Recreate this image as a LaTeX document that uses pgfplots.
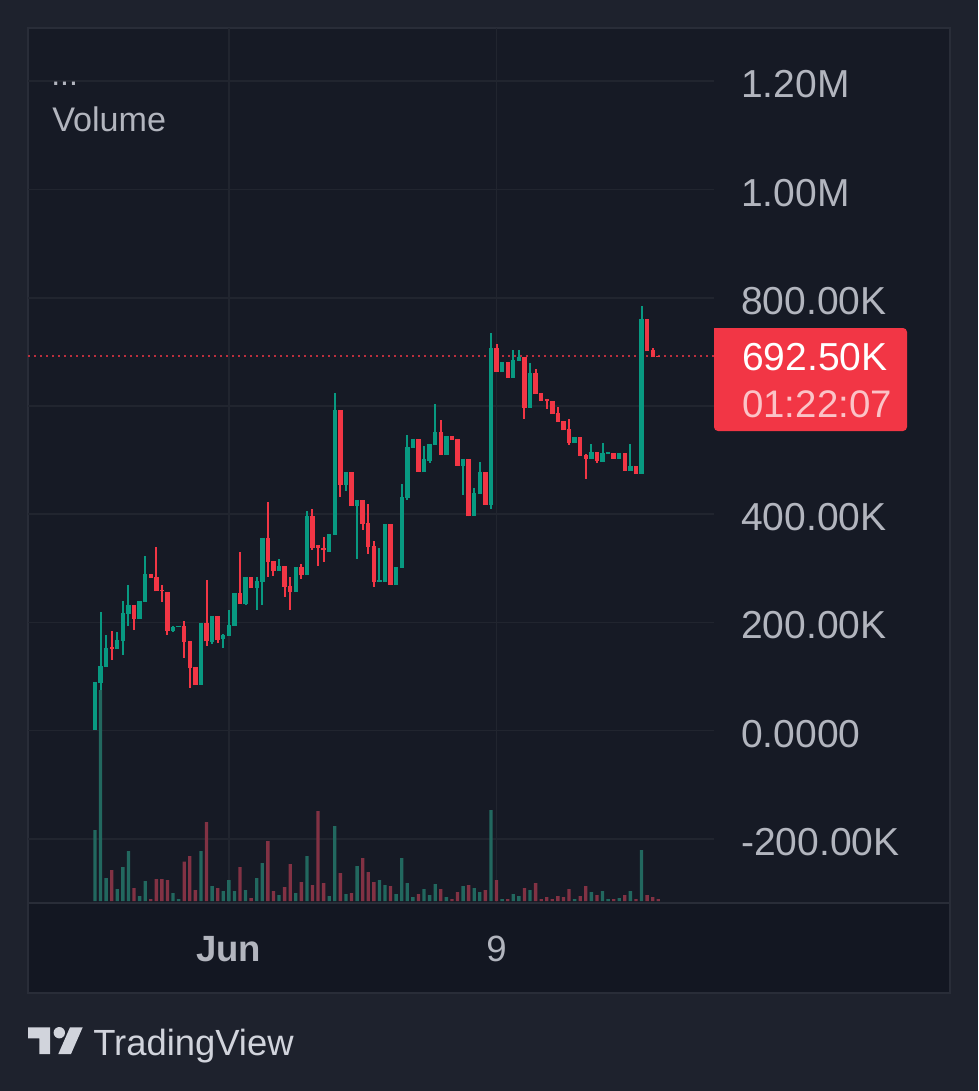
\documentclass[border=0pt]{standalone}
\usepackage{pgfplots}
\usepackage{pgfplotstable}
\usepackage{fontspec}
\setmainfont{Liberation Sans}
\pgfplotsset{compat=1.18}
\definecolor{outer}{HTML}{1E222D}
\definecolor{pane}{HTML}{161A25}
\definecolor{panelow}{HTML}{131722}
\definecolor{border}{HTML}{292D38}
\definecolor{gridc}{HTML}{21252F}
\definecolor{upc}{HTML}{089981}
\definecolor{downc}{HTML}{F23645}
\definecolor{upv}{HTML}{22685F}
\definecolor{downv}{HTML}{823244}
\definecolor{labelc}{HTML}{B2B5BE}
\definecolor{logoc}{HTML}{D1D4DC}
\pgfplotstableread{
i o h l c
0 1 90 1 90
1 87 219 75 119
2 118 176 118 153
4 151 182 151 167
5 166 239 140 217
6 215 269 193 232
8 206 239 206 239
9 238 323 238 289
14 184 194 182 192
15 191 194 191 194
19 84 199 84 199
21 164 212 160 212
23 170 178 152 177
24 175 223 175 195
25 193 254 193 254
27 234 284 232 284
29 263 284 223 276
30 274 356 232 356
33 295 317 295 304
36 256 302 256 302
38 287 406 287 396
42 330 363 330 363
43 361 624 361 592
45 454 478 443 478
47 415 426 317 426
51 274 337 274 278
52 274 382 274 382
54 269 302 269 302
55 300 456 300 432
56 430 546 426 524
57 522 539 522 539
59 478 526 478 502
60 498 530 494 530
61 528 603 528 552
63 509 544 509 544
66 489 502 435 502
68 396 448 396 439
69 437 496 437 478
71 417 735 409 707
73 663 681 663 681
75 652 703 652 685
76 683 703 683 690
78 596 679 596 661
86 531 542 531 542
89 502 530 502 515
91 496 531 496 513
92 511 515 511 515
94 502 513 502 513
96 480 530 480 489
98 474 785 474 761
}\upcandles
\pgfplotstableread{
i o h l c
3 155 184 131 151
7 232 232 186 206
10 290 290 282 282
11 284 339 257 257
12 260 269 238 257
13 256 256 176 184
16 193 202 134 164
17 165 165 79 115
18 117 117 84 84
20 199 278 156 165
22 212 212 162 167
26 254 330 234 234
28 284 284 263 263
31 356 422 284 312
32 313 313 286 295
34 304 304 247 266
35 267 284 223 256
37 303 308 280 287
39 396 409 334 337
40 342 342 304 337
41 337 358 311 333
44 592 592 432 454
46 478 478 415 415
48 426 426 371 382
49 383 419 326 339
50 341 350 265 274
53 382 382 269 269
58 539 539 478 478
62 552 574 509 509
64 544 544 537 537
65 539 539 489 489
67 502 502 396 396
70 478 478 417 417
72 707 714 663 663
74 681 681 652 652
77 690 690 576 596
79 661 668 622 622
80 624 624 609 609
81 613 613 594 609
82 609 609 585 585
83 587 598 570 570
84 572 572 555 555
85 557 576 528 531
87 542 542 507 507
88 509 511 465 502
90 515 515 494 498
93 513 513 502 502
95 513 513 480 480
97 489 489 474 474
99 761 761 701 701
100 703 707 690 690
101 693 693 691 691
}\downcandles
\pgfplotstableread{
i v
0 213
1 633
2 69
4 36
5 102
6 150
8 15
9 60
14 24
15 6
19 150
21 45
23 30
24 63
25 30
27 33
29 69
30 114
33 18
36 24
38 135
42 15
43 225
45 21
47 105
51 63
52 48
54 21
55 129
56 54
57 12
59 36
60 18
61 51
63 12
66 45
68 39
69 27
71 273
73 6
75 21
76 15
78 33
86 6
89 27
91 30
92 6
94 9
96 30
98 153
}\upvolume
\pgfplotstableread{
i v
3 93
7 39
10 6
11 66
12 66
13 63
16 118
17 135
18 33
20 237
22 39
26 102
28 9
31 180
32 30
34 42
35 111
37 57
39 48
40 270
41 54
44 84
46 24
48 129
49 87
50 57
53 45
58 21
62 36
64 6
65 27
67 48
70 33
72 63
74 6
77 39
79 54
80 6
81 12
82 6
83 15
84 12
85 36
87 15
88 45
90 18
93 6
95 18
97 6
99 18
100 12
101 6
}\downvolume
\newcommand{\bigf}{\fontsize{29.25}{32}\selectfont}
\pgfplotsset{
  paneaxis/.style={
    at={(21pt,-677.25pt)}, anchor=south west,
    scale only axis, width=514.5pt, height=656.25pt,
    xmin=-12.01, xmax=110.99,
    clip=true,
  },
  wick/.style={draw=none, mark=none, forget plot,
    error bars/.cd, y dir=both, y explicit, error mark=none,
    error bar style={#1, line width=1.5pt}},
  body/.style={draw=none, mark=none, forget plot,
    error bars/.cd, y dir=both, y explicit, error mark=none,
    error bar style={#1, line width=3.3pt}},
}
\begin{document}
\begin{tikzpicture}[x=0.75pt,y=-0.75pt]
\path[use as bounding box, fill=outer] (0,0) rectangle (978,1091);
\fill[pane] (28,28) rectangle (950,903);
\fill[panelow] (28,903) rectangle (950,993);
\draw[border, line width=1.2pt] (28,28) rectangle (950,993);
\begin{axis}[paneaxis,
  ymin=-318.8, ymax=1298.5,
  axis line style={draw=none},
  major tick length=0pt,
  ytick={-200,0,200,400,600,800,1000,1200},
  yticklabels={-200.00K,0.0000,200.00K,400.00K,600.00K,800.00K,1.00M,1.20M},
  ytick pos=right, yticklabel pos=right,
  xtick={24,72}, xticklabels={\textbf{Jun},9},
  ymajorgrids, xmajorgrids,
  grid style={gridc, line width=1.2pt},
  tick label style={font=\bigf, text=labelc, inner sep=0pt},
  yticklabel style={anchor=west, xshift=20.25pt, yshift=-2.4pt},
  xticklabel style={font=\fontsize{27.4}{30}\selectfont, anchor=center, yshift=-34.2pt},
]
\addplot[downc!75!pane, line width=1.2pt, dash pattern=on 1.5pt off 3pt, forget plot]
  coordinates {(-12.01,692.5) (110.99,692.5)};
\addplot[wick=upc] table[x=i, y=c, y error plus expr=\thisrow{h}-\thisrow{c}, y error minus expr=\thisrow{c}-\thisrow{l}] {\upcandles};
\addplot[wick=downc] table[x=i, y=c, y error plus expr=\thisrow{h}-\thisrow{c}, y error minus expr=\thisrow{c}-\thisrow{l}] {\downcandles};
\addplot[body=upc] table[x=i, y=c, y error plus expr=0, y error minus expr=\thisrow{c}-\thisrow{o}] {\upcandles};
\addplot[body=downc] table[x=i, y=c, y error minus expr=0, y error plus expr=\thisrow{o}-\thisrow{c}] {\downcandles};
\end{axis}
\begin{axis}[paneaxis, hide axis,
  ymin=-6, ymax=2619,
  ybar, bar width=2.5pt, bar shift=0pt,
]
\addplot[fill=upv, draw=none] table[x=i, y=v] {\upvolume};
\addplot[fill=downv, draw=none] table[x=i, y=v] {\downvolume};
\end{axis}
% separators
\draw[border, line width=1.2pt] (28,903) -- (950,903);
% legend text
\node[anchor=base west, inner sep=0pt, text=labelc, font=\fontsize{24}{26}\selectfont] at (51,86) {...};
\node[anchor=base west, inner sep=0pt, text=labelc, font=\fontsize{25.6}{28}\selectfont] at (52,132) {Volume};
% price label
\fill[downc, rounded corners=3pt] (714,328) -- (907,328) -- (907,431) -- (714,431) [sharp corners] -- cycle;
\node[anchor=base west, inner sep=0pt, text=white, font=\bigf] at (742,370) {692.50K};
\node[anchor=base west, inner sep=0pt, text=white!70!downc, font=\fontsize{28.8}{31}\selectfont] at (742,417) {01:22:07};
% logo
\fill[logoc] (28,1027.3) -- (50,1027.3) -- (50,1054) -- (39.3,1054) -- (39.3,1038.3) -- (28,1038.3) -- cycle;
\fill[logoc] (59.3,1032.7) circle (5.7);
\fill[logoc] (70,1027.3) -- (82.7,1027.3) -- (71,1054) -- (58.3,1054) -- cycle;
\node[anchor=base west, inner sep=0pt, text=logoc, font=\fontsize{27.3}{30}\selectfont] at (93,1055) {TradingView};
\end{tikzpicture}
\end{document}
